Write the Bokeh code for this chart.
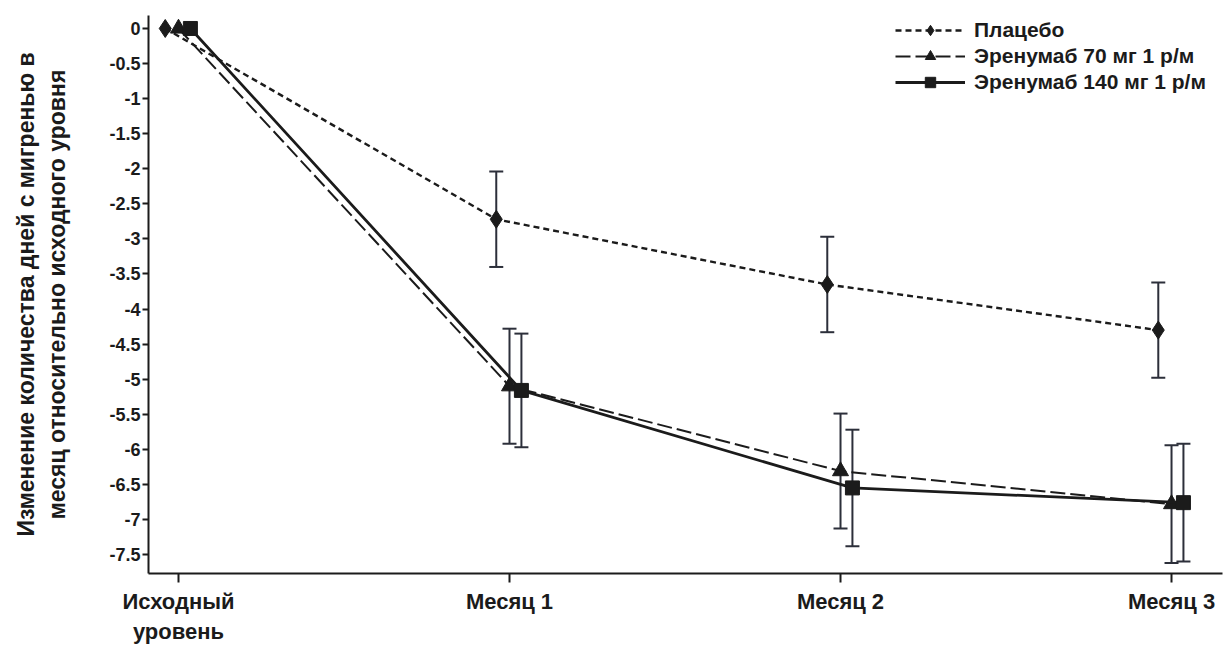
from bokeh.plotting import figure
from bokeh.models import ColumnDataSource, Whisker, TeeHead, FixedTicker, Legend, LegendItem, Range1d
from bokeh.embed import file_html
from bokeh.resources import INLINE

# ---- data ----
categories = ["Исходный\nуровень", "Месяц 1", "Месяц 2", "Месяц 3"]
y_ticks = [0, -0.5, -1, -1.5, -2, -2.5, -3, -3.5, -4, -4.5, -5, -5.5, -6, -6.5, -7, -7.5]
y_tick_labels = ["0", "-0.5", "-1", "-1.5", "-2", "-2.5", "-3", "-3.5", "-4", "-4.5",
                 "-5", "-5.5", "-6", "-6.5", "-7", "-7.5"]

series_names = ["Плацебо", "Эренумаб 70 мг 1 р/м", "Эренумаб 140 мг 1 р/м"]
placebo_mean = [0, -2.72, -3.65, -4.30]
placebo_se = [0, 0.68, 0.68, 0.68]
e70_mean = [0, -5.10, -6.31, -6.78]
e70_se = [0, 0.82, 0.82, 0.84]
e140_mean = [0, -5.16, -6.55, -6.76]
e140_se = [0, 0.81, 0.83, 0.84]

offsets = [-0.04, 0.0, 0.036]
means = [placebo_mean, e70_mean, e140_mean]
ses = [placebo_se, e70_se, e140_se]
dashes = ["6 4", "15 5", "solid"]
widths = [2.4, 2, 2.8]
markers = ["diamond", "triangle", "square"]
msizes = [18, 16, 14]

INK = "#1b1b1b"
BAR = "#2c2f3a"
FONT = "Liberation Sans"

p = figure(width=1227, height=646, output_backend="svg", toolbar_location=None,
           x_range=Range1d(-0.0906, 3.154), y_range=Range1d(-7.77, 0.185),
           min_border_left=148, min_border_right=5, min_border_top=15, min_border_bottom=71)
p.outline_line_color = None
p.grid.visible = False
p.background_fill_color = "white"

items = []
for i in range(3):
    xs = [k + offsets[i] for k in range(len(categories))]
    src = ColumnDataSource(dict(x=xs, y=means[i]))
    ln = p.line("x", "y", source=src, line_color=INK, line_width=widths[i], line_dash=dashes[i])
    mk = p.scatter("x", "y", source=src, marker=markers[i], size=msizes[i],
                   fill_color=INK, line_color=INK)
    esrc = ColumnDataSource(dict(x=xs[1:],
                                 upper=[m + s for m, s in zip(means[i][1:], ses[i][1:])],
                                 lower=[m - s for m, s in zip(means[i][1:], ses[i][1:])]))
    w = Whisker(source=esrc, base="x", upper="upper", lower="lower",
                line_color=BAR, line_width=2,
                upper_head=TeeHead(size=14, line_color=BAR, line_width=2),
                lower_head=TeeHead(size=14, line_color=BAR, line_width=2))
    p.add_layout(w)
    items.append(LegendItem(label=series_names[i], renderers=[ln, mk]))

legend = Legend(items=items, location=(747, 478), margin=0, padding=0,
                border_line_alpha=0, background_fill_alpha=0,
                glyph_width=70, glyph_height=26, label_height=26, spacing=0,
                label_standoff=9, label_text_font=FONT, label_text_font_style="bold",
                label_text_font_size="21px", label_text_color=INK)
p.add_layout(legend)

# axes
p.xaxis.ticker = FixedTicker(ticks=list(range(len(categories))))
p.xaxis.major_label_overrides = {k: c for k, c in enumerate(categories)}
p.yaxis.ticker = FixedTicker(ticks=y_ticks)
p.yaxis.major_label_overrides = {t: l for t, l in zip(y_ticks, y_tick_labels)}
p.yaxis.axis_label = "Изменение количества дней с мигренью в\nмесяц относительно исходного уровня"

for ax in (p.xaxis[0], p.yaxis[0]):
    ax.axis_line_width = 2
    ax.axis_line_color = INK
    ax.major_tick_line_color = INK
    ax.major_tick_line_width = 2
    ax.major_tick_in = 0
    ax.minor_tick_line_color = None
    ax.major_label_text_font = FONT
    ax.major_label_text_font_style = "bold"
    ax.major_label_text_color = INK
    ax.axis_label_text_font = FONT
    ax.axis_label_text_font_style = "bold"
    ax.axis_label_text_color = INK

p.xaxis.major_tick_out = 9
p.xaxis.major_label_text_font_size = "22px"
p.xaxis.major_label_standoff = 6
p.yaxis.major_tick_out = 6
p.yaxis.major_label_text_font_size = "18px"
p.yaxis.major_label_standoff = 2
p.yaxis.axis_label_text_font_size = "23px"
p.yaxis.axis_label_standoff = 36

open("out.html", "w").write(file_html(p, INLINE))
